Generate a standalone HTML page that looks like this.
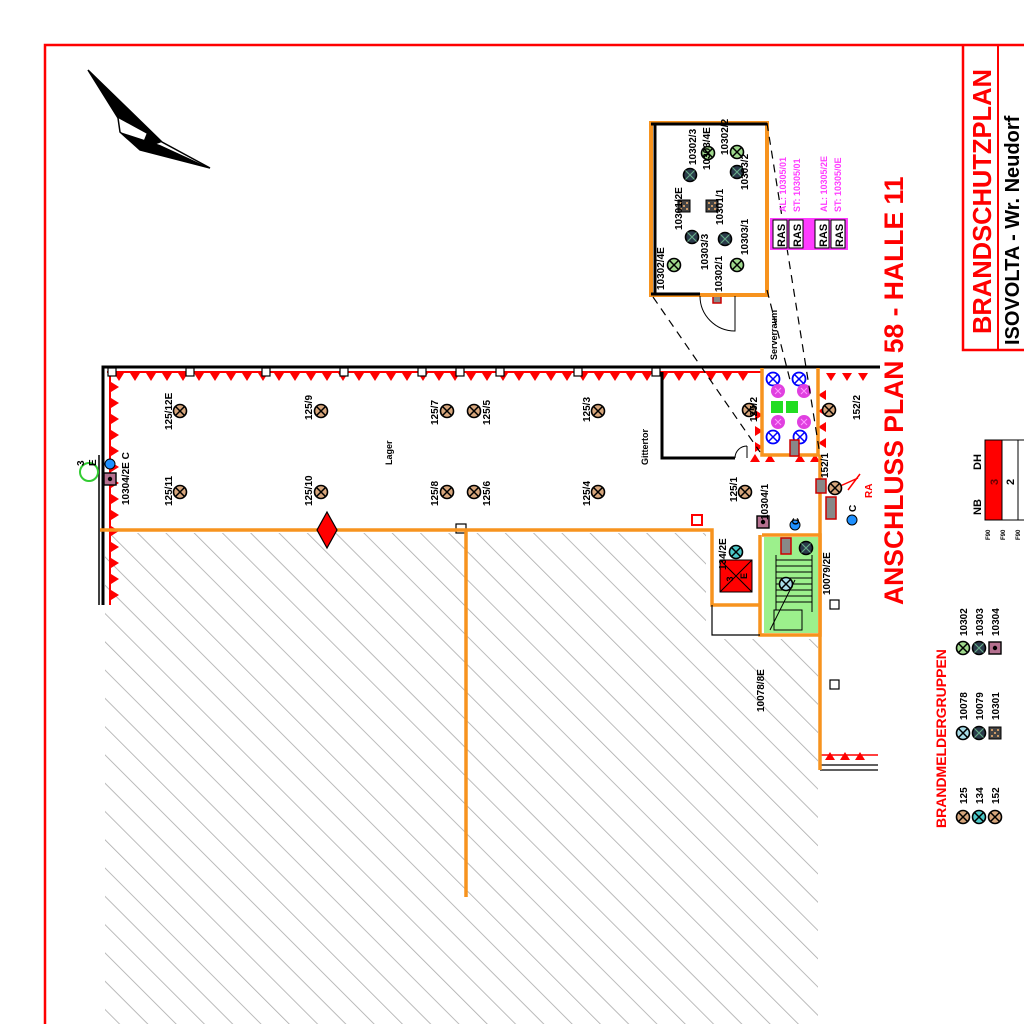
<!DOCTYPE html>
<html><head><meta charset="utf-8"><style>
html,body{margin:0;padding:0;background:#fff;width:1024px;height:1024px;overflow:hidden}
svg{display:block}
text{font-family:"Liberation Sans",sans-serif;font-weight:bold}
</style></head><body>
<svg width="1024" height="1024" viewBox="0 0 1024 1024" xmlns="http://www.w3.org/2000/svg">
<defs>
<pattern id="h" patternUnits="userSpaceOnUse" width="20" height="20" patternTransform="rotate(-45)">
<line x1="0" y1="0" x2="0" y2="20" stroke="#aaa" stroke-width="1.6"/>
</pattern>
<symbol id="d" overflow="visible">
<circle r="6.5" fill="#d7a67c" stroke="#000" stroke-width="1.6"/>
<path d="M-4.5-4.5L4.5 4.5M4.5-4.5L-4.5 4.5" stroke="#000" stroke-width="1.5"/>
</symbol>
<symbol id="g" overflow="visible">
<circle r="6.5" fill="#9fd98c" stroke="#000" stroke-width="1.6"/>
<path d="M-4.5-4.5L4.5 4.5M4.5-4.5L-4.5 4.5" stroke="#000" stroke-width="1.5"/>
</symbol>
<symbol id="k" overflow="visible">
<circle r="6.5" fill="#2a3a4a" stroke="#000" stroke-width="1.6"/>
<path d="M-4.5-4.5L4.5 4.5M4.5-4.5L-4.5 4.5" stroke="#6a8" stroke-width="1.2"/>
</symbol>
<symbol id="c" overflow="visible">
<circle r="6.5" fill="#4cc9c9" stroke="#000" stroke-width="1.6"/>
<path d="M-4.5-4.5L4.5 4.5M4.5-4.5L-4.5 4.5" stroke="#000" stroke-width="1.5"/>
</symbol>
<symbol id="lb" overflow="visible">
<circle r="6.5" fill="#a8dde8" stroke="#000" stroke-width="1.6"/>
<path d="M-4.5-4.5L4.5 4.5M4.5-4.5L-4.5 4.5" stroke="#000" stroke-width="1.5"/>
</symbol>
<symbol id="bb" overflow="visible">
<circle r="6.5" fill="#fff" stroke="#00f" stroke-width="1.8"/>
<path d="M-4.5-4.5L4.5 4.5M4.5-4.5L-4.5 4.5" stroke="#00f" stroke-width="1.5"/>
</symbol>
<symbol id="mm" overflow="visible">
<circle r="7" fill="#e040e0"/>
<path d="M-3-3L3 3M3-3L-3 3" stroke="#f9f" stroke-width="1"/>
</symbol>
<symbol id="sq" overflow="visible">
<rect x="-6" y="-6" width="12" height="12" fill="#444" stroke="#000"/>
<path d="M-4-4h2v2h-2zM2-4h2v2h-2zM-1-1h2v2h-2zM-4 2h2v2h-2zM2 2h2v2h-2z" fill="#c96"/>
</symbol>
<symbol id="pk" overflow="visible">
<rect x="-6" y="-6" width="12" height="12" fill="#b5708f" stroke="#000" stroke-width="1.4"/>
<circle r="2.2" fill="#000"/>
</symbol>
</defs>

<path d="M45 1024V45H1024" fill="none" stroke="#f00" stroke-width="2.5"/>

<!-- compass -->
<path d="M88 70L118 118L120 132L140 150L210 168L162 142Z" fill="#fff" stroke="#000" stroke-width="1.5"/>
<path d="M88 70L118 118L162 142Z" fill="#000"/>
<path d="M120 132L140 150L210 168L160 145Z" fill="#000"/>
<path d="M140 150L162 142L148 130Z" fill="#000"/>

<!-- hatch -->
<rect x="105" y="533" width="713" height="491" fill="url(#h)"/>
<rect x="706" y="531" width="114" height="108" fill="#fff"/>

<path d="M103 605V367H880" fill="none" stroke="#000" stroke-width="3"/>
<path d="M99 605V455M99 520V605" fill="none" stroke="#000" stroke-width="1.5"/>
<path d="M107 372H762M110 372V605" stroke="#f00" stroke-width="2" fill="none"/>
<g fill="#f00">
<path d="M114 373l5 8 5-8zM130 373l5 8 5-8zM146 373l5 8 5-8zM162 373l5 8 5-8zM178 373l5 8 5-8zM194 373l5 8 5-8zM210 373l5 8 5-8zM226 373l5 8 5-8zM242 373l5 8 5-8zM258 373l5 8 5-8zM274 373l5 8 5-8zM290 373l5 8 5-8zM306 373l5 8 5-8zM322 373l5 8 5-8zM338 373l5 8 5-8zM354 373l5 8 5-8zM370 373l5 8 5-8zM386 373l5 8 5-8zM402 373l5 8 5-8zM418 373l5 8 5-8zM434 373l5 8 5-8zM450 373l5 8 5-8zM466 373l5 8 5-8zM482 373l5 8 5-8zM498 373l5 8 5-8zM514 373l5 8 5-8zM530 373l5 8 5-8zM546 373l5 8 5-8zM562 373l5 8 5-8zM578 373l5 8 5-8zM594 373l5 8 5-8zM610 373l5 8 5-8zM626 373l5 8 5-8zM642 373l5 8 5-8zM658 373l5 8 5-8zM674 373l5 8 5-8zM690 373l5 8 5-8zM706 373l5 8 5-8zM722 373l5 8 5-8zM738 373l5 8 5-8zM826 373l5 8 5-8zM842 373l5 8 5-8zM858 373l5 8 5-8z"/>
<path d="M111 382l8 5-8 5zM111 398l8 5-8 5zM111 414l8 5-8 5zM111 430l8 5-8 5zM111 446l8 5-8 5zM111 462l8 5-8 5zM111 478l8 5-8 5zM111 494l8 5-8 5zM111 510l8 5-8 5zM111 526l8 5-8 5zM111 542l8 5-8 5zM111 558l8 5-8 5zM111 574l8 5-8 5zM111 590l8 5-8 5z"/>
<path d="M755 410l8 5-8 5zM755 426l8 5-8 5zM755 442l8 5-8 5zM826 390l-8 5 8 5zM826 406l-8 5 8 5zM826 422l-8 5 8 5zM826 438l-8 5 8 5zM750 462l5-8 5 8zM765 462l5-8 5 8zM795 462l5-8 5 8zM810 462l5-8 5 8z"/>
<path d="M825 760l5-8 5 8zM840 760l5-8 5 8zM855 760l5-8 5 8z"/>
</g>
<path d="M820 765H878M820 770H878" stroke="#000" stroke-width="1.2"/>
<path d="M820 755H878" stroke="#f00" stroke-width="1.5"/>
<g fill="#fff" stroke="#000" stroke-width="1.2">
<rect x="108" y="368" width="8" height="8"/><rect x="186" y="368" width="8" height="8"/><rect x="262" y="368" width="8" height="8"/><rect x="340" y="368" width="8" height="8"/><rect x="418" y="368" width="8" height="8"/><rect x="456" y="368" width="8" height="8"/><rect x="496" y="368" width="8" height="8"/><rect x="574" y="368" width="8" height="8"/><rect x="652" y="368" width="8" height="8"/>
<rect x="456" y="524" width="10" height="9"/>
<rect x="830" y="600" width="9" height="9"/><rect x="830" y="680" width="9" height="9"/>
</g>

<path d="M662 372V458H735" fill="none" stroke="#000" stroke-width="3"/>
<path d="M735 458a12 12 0 0 1 12-12M747 458V446" fill="none" stroke="#000" stroke-width="1"/>

<g stroke="#f7931e" stroke-width="3.5" fill="none">
<path d="M100 530H712V605H760"/>
<path d="M466 530V897"/>
<path d="M820 455V770"/>
<path d="M762 368V455H818V368"/>
<path d="M762 535H820V635H760V535"/>
</g>
<path d="M712 605V635H760" fill="none" stroke="#000" stroke-width="1.2"/>

<path d="M327 512L337 530L327 548L317 530Z" fill="#f00" stroke="#000" stroke-width="1.2"/>

<rect x="764" y="537" width="54" height="96" fill="#9cf08c"/>
<g stroke="#000" stroke-width="1">
<path d="M776 560H812M776 566H812M776 572H812M776 578H812M776 584H812M776 590H812M776 596H812M776 602H812"/>
<path d="M776 555V610M812 555V612"/>
<path d="M770 630L795 580"/>
<rect x="774" y="610" width="28" height="20" fill="none"/>
</g>
<rect x="720" y="560" width="32" height="32" fill="#f00" stroke="#000"/>
<path d="M720 560L752 592M752 560L720 592" stroke="#000"/>
<text transform="translate(733,579) rotate(-90)" font-size="9" text-anchor="middle">3</text>
<text transform="translate(747,576) rotate(-90)" font-size="9" text-anchor="middle">E</text>

<rect x="765" y="371" width="50" height="81" fill="#fff"/>
<use href="#bb" x="773" y="379"/><use href="#bb" x="799" y="379"/>
<use href="#mm" x="778" y="391"/><use href="#mm" x="804" y="391"/>
<rect x="771" y="401" width="12" height="12" fill="#2d2"/><rect x="786" y="401" width="12" height="12" fill="#2d2"/>
<use href="#mm" x="778" y="422"/><use href="#mm" x="804" y="422"/>
<use href="#bb" x="773" y="437"/><use href="#bb" x="800" y="437"/>

<g fill="#888" stroke="#c00" stroke-width="1.5">
<rect x="790" y="440" width="9" height="16"/>
<rect x="816" y="479" width="10" height="14"/>
<rect x="826" y="497" width="10" height="22"/>
<rect x="781" y="538" width="10" height="16"/>
<rect x="713" y="289" width="8" height="14"/>
</g>
<path d="M838 487L858 478M848 490l12-16" stroke="#f00" stroke-width="1.5"/>
<text transform="translate(872,498) rotate(-90)" font-size="10" fill="#f00">RA</text>
<rect x="692" y="515" width="10" height="10" fill="none" stroke="#f00" stroke-width="2"/>

<g fill="#1e90ff" stroke="#000" stroke-width="1">
<circle cx="110" cy="464" r="5"/><circle cx="795" cy="525" r="5"/><circle cx="852" cy="520" r="5"/>
</g>
<use href="#pk" x="110" y="479"/>
<use href="#pk" x="763" y="522"/>
<circle cx="89" cy="472" r="9" fill="none" stroke="#3c3" stroke-width="2"/>

<use href="#d" x="180" y="411"/><use href="#d" x="180" y="492"/>
<use href="#d" x="321" y="411"/><use href="#d" x="321" y="492"/>
<use href="#d" x="447" y="411"/><use href="#d" x="447" y="492"/>
<use href="#d" x="474" y="411"/><use href="#d" x="474" y="492"/>
<use href="#d" x="598" y="411"/><use href="#d" x="598" y="492"/>
<use href="#d" x="749" y="410"/><use href="#d" x="745" y="492"/>
<use href="#d" x="829" y="410"/><use href="#d" x="835" y="488"/>
<use href="#c" x="736" y="552"/>
<use href="#k" x="806" y="548"/>
<use href="#lb" x="786" y="584"/>

<g font-size="10" fill="#000">
<text transform="translate(172,430) rotate(-90)">125/12E</text>
<text transform="translate(172,506) rotate(-90)">125/11</text>
<text transform="translate(312,420) rotate(-90)">125/9</text>
<text transform="translate(312,506) rotate(-90)">125/10</text>
<text transform="translate(438,425) rotate(-90)">125/7</text>
<text transform="translate(438,506) rotate(-90)">125/8</text>
<text transform="translate(490,425) rotate(-90)">125/5</text>
<text transform="translate(490,506) rotate(-90)">125/6</text>
<text transform="translate(590,422) rotate(-90)">125/3</text>
<text transform="translate(590,506) rotate(-90)">125/4</text>
<text transform="translate(757,422) rotate(-90)">125/2</text>
<text transform="translate(737,502) rotate(-90)">125/1</text>
<text transform="translate(860,420) rotate(-90)">152/2</text>
<text transform="translate(828,478) rotate(-90)">152/1</text>
<text transform="translate(392,465) rotate(-90)" font-size="9">Lager</text>
<text transform="translate(648,465) rotate(-90)" font-size="9">Gittertor</text>
<text transform="translate(777,360) rotate(-90)" font-size="9">Serverraum</text>
<text transform="translate(129,505) rotate(-90)">10304/2E C</text>
<text transform="translate(768,520) rotate(-90)">10304/1</text>
<text transform="translate(726,570) rotate(-90)">134/2E</text>
<text transform="translate(830,595) rotate(-90)">10079/2E</text>
<text transform="translate(764,712) rotate(-90)">10078/8E</text>
<text transform="translate(799,525) rotate(-90)">C</text>
<text transform="translate(856,512) rotate(-90)">C</text>
<text transform="translate(84,466) rotate(-90)">3</text>
<text transform="translate(96,466) rotate(-90)">E</text>
</g>

<rect x="651" y="123" width="116" height="172" fill="#fff" stroke="#f7931e" stroke-width="4"/>
<path d="M655 123V295M651 124H767M651 294H700" stroke="#000" stroke-width="3" fill="none"/>
<path d="M700 296a35 35 0 0 0 35 35V296" fill="none" stroke="#000" stroke-width="1"/>
<path d="M653 297L760 452M767 290L790 380M767 123L820 455" stroke="#000" stroke-width="1.2" stroke-dasharray="8 6" fill="none"/>
<use href="#g" x="674" y="265"/><use href="#g" x="737" y="265"/>
<use href="#g" x="737" y="152"/><use href="#g" x="708" y="153"/>
<use href="#k" x="692" y="237"/><use href="#k" x="725" y="239"/>
<use href="#k" x="690" y="175"/><use href="#k" x="737" y="172"/>
<use href="#sq" x="684" y="206"/><use href="#sq" x="712" y="206"/>
<g font-size="10">
<text transform="translate(664,290) rotate(-90)">10302/4E</text>
<text transform="translate(682,230) rotate(-90)">10301/2E</text>
<text transform="translate(696,165) rotate(-90)">10302/3</text>
<text transform="translate(708,270) rotate(-90)">10303/3</text>
<text transform="translate(722,292) rotate(-90)">10302/1</text>
<text transform="translate(710,170) rotate(-90)">10303/4E</text>
<text transform="translate(723,225) rotate(-90)">10301/1</text>
<text transform="translate(748,255) rotate(-90)">10303/1</text>
<text transform="translate(748,190) rotate(-90)">10303/2</text>
<text transform="translate(728,155) rotate(-90)">10302/2</text>
</g>
<rect x="770" y="218" width="78" height="32" fill="#ff3cff"/>
<g fill="#fff" stroke="#000" stroke-width="1">
<rect x="773" y="220" width="14" height="28"/><rect x="789" y="220" width="14" height="28"/>
<rect x="815" y="220" width="14" height="28"/><rect x="831" y="220" width="14" height="28"/>
</g>
<g font-size="11">
<text transform="translate(785,247) rotate(-90)">RAS</text>
<text transform="translate(801,247) rotate(-90)">RAS</text>
<text transform="translate(827,247) rotate(-90)">RAS</text>
<text transform="translate(843,247) rotate(-90)">RAS</text>
</g>
<g font-size="9" fill="#ff3cff">
<text transform="translate(786,212) rotate(-90)">AL: 10305/01</text>
<text transform="translate(800,212) rotate(-90)">ST: 10305/01</text>
<text transform="translate(827,212) rotate(-90)">AL: 10305/2E</text>
<text transform="translate(841,212) rotate(-90)">ST: 10305/0E</text>
</g>

<text transform="translate(903,605) rotate(-90)" font-size="26.5" fill="#f00">ANSCHLUSS  PLAN 58 - HALLE 11</text>

<path d="M1024 350H963V45" fill="none" stroke="#f00" stroke-width="2.5"/>
<path d="M998 350V45" stroke="#f00" stroke-width="2"/>
<text transform="translate(991,334) rotate(-90)" font-size="25.5" fill="#f00">BRANDSCHUTZPLAN</text>
<text transform="translate(1019,345) rotate(-90)" font-size="20" font-weight="normal" fill="#000">ISOVOLTA - Wr. Neudorf</text>

<rect x="985" y="440" width="17" height="80" fill="#f00" stroke="#000"/>
<path d="M1002 440H1024M1002 520H1024M1018 440V520" stroke="#000" fill="none"/>
<g font-size="11">
<text transform="translate(981,515) rotate(-90)">NB</text>
<text transform="translate(981,470) rotate(-90)">DH</text>
<text transform="translate(998,485) rotate(-90)" fill="#600">3</text>
<text transform="translate(1014,485) rotate(-90)">2</text>
</g>
<g font-size="6"><text transform="translate(990,540) rotate(-90)">F90</text><text transform="translate(1005,540) rotate(-90)">F90</text><text transform="translate(1020,540) rotate(-90)">F90</text></g>

<text transform="translate(946,828) rotate(-90)" font-size="14" fill="#f00">BRANDMELDERGRUPPEN</text>
<use href="#d" x="963" y="817"/><use href="#c" x="979" y="817"/><use href="#d" x="995" y="817"/>
<use href="#lb" x="963" y="733"/><use href="#k" x="979" y="733"/><use href="#sq" x="995" y="733"/>
<use href="#g" x="963" y="648"/><use href="#k" x="979" y="648"/><use href="#pk" x="995" y="648"/>
<g font-size="10">
<text transform="translate(967,804) rotate(-90)">125</text><text transform="translate(983,804) rotate(-90)">134</text><text transform="translate(999,804) rotate(-90)">152</text>
<text transform="translate(967,720) rotate(-90)">10078</text><text transform="translate(983,720) rotate(-90)">10079</text><text transform="translate(999,720) rotate(-90)">10301</text>
<text transform="translate(967,636) rotate(-90)">10302</text><text transform="translate(983,636) rotate(-90)">10303</text><text transform="translate(999,636) rotate(-90)">10304</text>
</g>
</svg>
</body></html>
